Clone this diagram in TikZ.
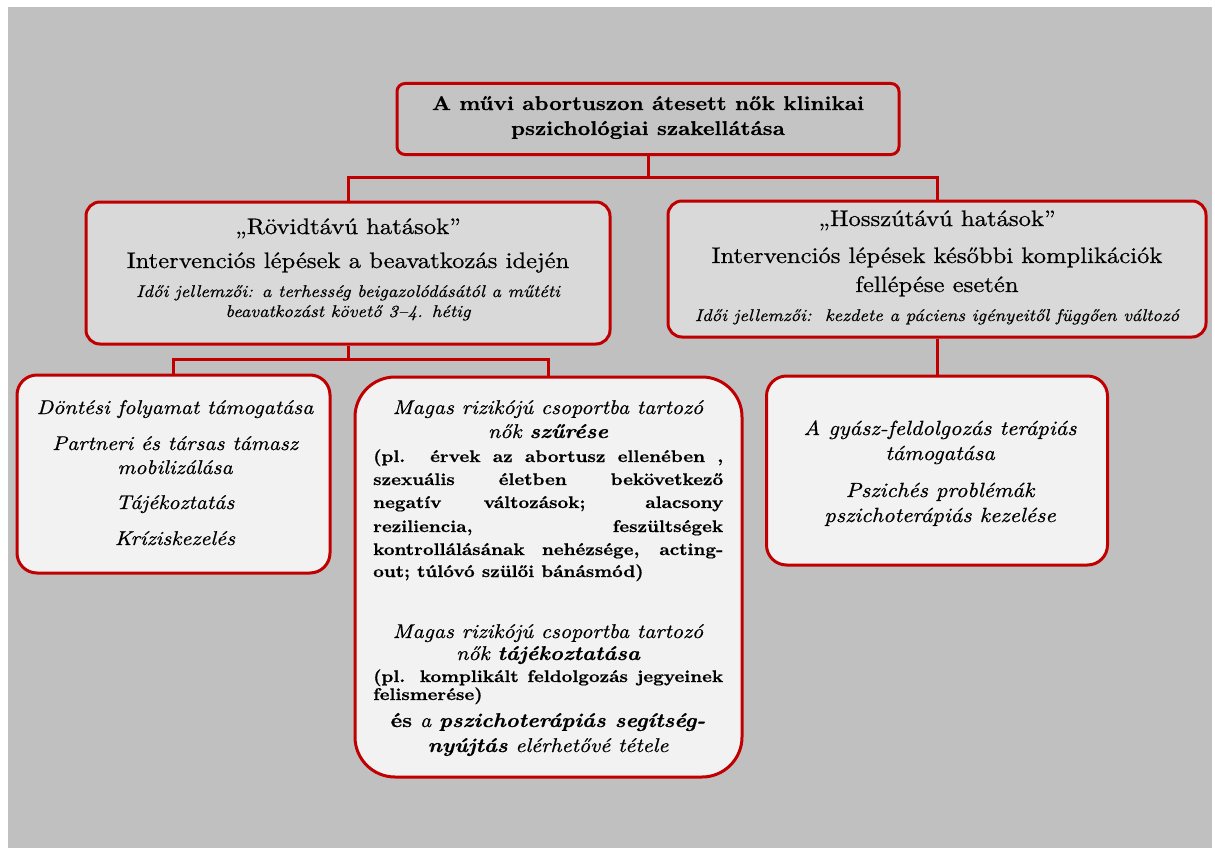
\documentclass[tikz,border=0pt]{standalone}
\usepackage{fontspec}
\setmainfont{lmroman10}[Extension=.otf, UprightFont=*-regular, BoldFont=*-bold, ItalicFont=*-italic, BoldItalicFont=*-bolditalic, FakeStretch=1.1, FakeBold=0.7]
\definecolor{dred}{RGB}{192,0,0}
\definecolor{bggray}{RGB}{192,192,192}
\definecolor{topfill}{RGB}{196,196,196}
\definecolor{midfill}{RGB}{217,217,217}
\definecolor{lowfill}{RGB}{242,242,242}
\newcommand\fTop{\fontsize{19.9}{24}\selectfont\bfseries}
\newcommand\fHead{\fontsize{22.4}{26}\selectfont}
\newcommand\fTime{\fontsize{17.0}{20}\selectfont\itshape}
\newcommand\fBox{\fontsize{19.9}{24}\selectfont\itshape}
\newcommand\fJus{\fontsize{16.9}{20}\selectfont\bfseries}
\newcommand\fBR{\fontsize{20.5}{24}\selectfont\itshape}
\begin{document}
\begin{tikzpicture}[x=1pt,y=-1pt,
  box/.style={draw=dred, line width=3pt, inner sep=0pt},
  conn/.style={draw=dred, line width=3pt},
  txt/.style={anchor=base, inner sep=0pt, text=black},
  ltxt/.style={anchor=base west, inner sep=0pt, text=black}]
\useasboundingbox (0,0) rectangle (1215,848);
\fill[white] (0,0) rectangle (1215,848);
\fill[bggray] (8,7) rectangle (1212,848);

% boxes
\node[box, fill=topfill, rounded corners=8pt, minimum width=502pt, minimum height=71pt] (top) at (648,119) {};
\node[box, fill=midfill, rounded corners=14pt, minimum width=524pt, minimum height=142pt] (rov) at (348,273) {};
\node[box, fill=midfill, rounded corners=14pt, minimum width=538pt, minimum height=136pt] (hossz) at (937,269) {};
\node[box, fill=lowfill, rounded corners=20pt, minimum width=313pt, minimum height=198pt] (bl) at (173.5,474) {};
\node[box, fill=lowfill, rounded corners=40pt, minimum width=387pt, minimum height=400pt] (bm) at (548.5,577) {};
\node[box, fill=lowfill, rounded corners=20pt, minimum width=341pt, minimum height=189pt] (br) at (937,470.5) {};

% connectors
\coordinate (c0) at (648,177);
\coordinate (c1) at (348,359);
\draw[conn] (top.south) -- (c0);
\draw[conn] (rov.north) |- (c0) -| (hossz.north);
\draw[conn] (rov.south) -- (c1);
\draw[conn] (bl.north) |- (c1) -| (bm.north);
\draw[conn] (hossz.south) -- (br.north);

% top text
\node[txt, font=\fTop] (t1) at (648,110) {A művi abortuszon átesett nők klinikai};
\node[txt, font=\fTop] (t2) at (648,135) {pszichológiai szakellátása};

% short-term box
\node[txt, font=\fHead] (r1) at (348,234) {„Rövidtávú hatások”};
\node[txt, font=\fHead] (r2) at (348,268) {Intervenciós lépések a beavatkozás idején};
\node[txt, font=\fTime] (r3) at (348,297) {Idői jellemzői: a terhesség beigazolódásától a műtéti};
\node[txt, font=\fTime] (r4) at (348,317) {beavatkozást követő 3–4. hétig};

% long-term box
\node[txt, font=\fHead] (h1) at (937,226) {„Hosszútávú hatások”};
\node[txt, font=\fHead] (h2) at (937,263) {Intervenciós lépések későbbi komplikációk};
\node[txt, font=\fHead] (h3) at (937,292) {fellépése esetén};
\node[txt, font=\fTime] (h4) at (937,321) {Idői jellemzői:\ \ kezdete a páciens igényeitől függően változó};

% bottom-left box
\node[txt, font=\fBox] (b1) at (175,414) {Döntési folyamat támogatása};
\node[txt, font=\fBox] (b2) at (175,450) {Partneri és társas támasz};
\node[txt, font=\fBox] (b3) at (175,474) {mobilizálása};
\node[txt, font=\fBox] (b4) at (175,509) {Tájékoztatás};
\node[txt, font=\fBox] (b5) at (175,545) {Kríziskezelés};

% bottom-middle box
\node[txt, font=\fBox] (m1) at (548,414) {Magas rizikójú csoportba tartozó};
\node[txt, font=\fBox] (m2) at (548,438) {nők \textbf{szűrése}};
\node[ltxt, font=\fJus] (j1) at (373,462) {\makebox[350pt][s]{(pl. érvek az abortusz ellenében ,}};
\node[ltxt, font=\fJus] (j2) at (373,485) {\makebox[350pt][s]{szexuális életben bekövetkező}};
\node[ltxt, font=\fJus] (j3) at (373,508) {\makebox[350pt][s]{negatív változások; alacsony}};
\node[ltxt, font=\fJus] (j4) at (373,532) {\makebox[350pt][s]{reziliencia, feszültségek}};
\node[ltxt, font=\fJus] (j5) at (373,555) {\makebox[350pt][s]{kontrollálásának nehézsége, acting-}};
\node[ltxt, font=\fJus] (j6) at (373,577) {out; túlóvó szülői bánásmód)};
\node[txt, font=\fBox] (m3) at (548,638) {Magas rizikójú csoportba tartozó};
\node[txt, font=\fBox] (m4) at (548,660) {nők \textbf{tájékoztatása}};
\node[ltxt, font=\fJus] (p1) at (373,682) {\makebox[350pt][s]{(pl. komplikált feldolgozás jegyeinek}};
\node[ltxt, font=\fJus] (p2) at (373,700) {felismerése)};
\node[txt, font=\fBox] (m5) at (548,727) {{\upshape\bfseries és} a \textbf{pszichoterápiás segítség-}};
\node[txt, font=\fBox] (m6) at (548,752) {\textbf{nyújtás} elérhetővé tétele};

% bottom-right box
\node[txt, font=\fBR] (g1) at (940,435) {A gyász-feldolgozás terápiás};
\node[txt, font=\fBR] (g2) at (940,460) {támogatása};
\node[txt, font=\fBR] (g3) at (940,497) {Pszichés problémák};
\node[txt, font=\fBR] (g4) at (940,522) {pszichoterápiás kezelése};
\end{tikzpicture}
\end{document}
